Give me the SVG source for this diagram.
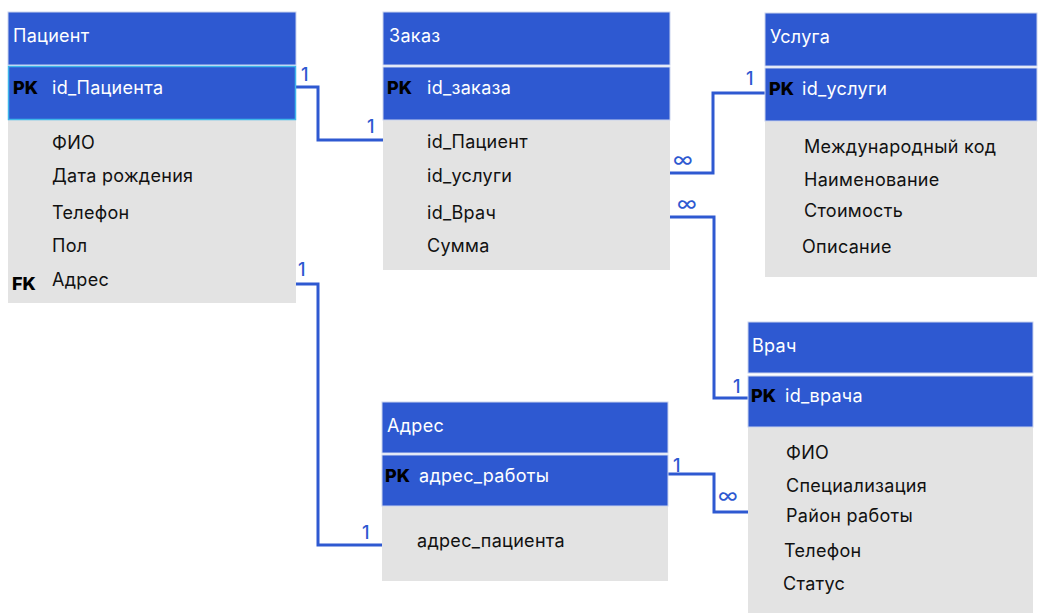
<svg xmlns="http://www.w3.org/2000/svg" width="1038" height="613" viewBox="0 0 1038 613">
  <style>
    .hdr { fill: #2e59d1; stroke: #c9d3ee; stroke-width: 1; }
    .pk { fill: #2e59d1; stroke: #c9d3ee; stroke-width: 1; }
    .body { fill: #e3e3e3; }
    .t { font-family: Inter, "Noto Sans", sans-serif; font-size: 18px; letter-spacing: 0.3px; }
    .w { fill: #ffffff; }
    .k { fill: #111111; }
    .b { font-family: Inter, "Noto Sans", sans-serif; font-size: 18px; font-weight: 800; fill: #000000; }
    .conn { fill: none; stroke: #2e59d1; stroke-width: 3; }
    .lbl { font-family: Inter, "Noto Sans", sans-serif; font-size: 18px; fill: #2e59d1; font-weight: 500; }
    .inf { font-family: Inter, "Noto Sans", sans-serif; font-size: 21px; fill: #2e59d1; font-weight: 400; }
  </style>
  <rect width="1038" height="613" fill="#ffffff"/>

  <!-- Connectors -->
  <g id="connectors">
    <polyline class="conn" points="296,87 318,87 318,140 383,140"/>
    <polyline class="conn" points="296,284 318,284 318,545 382,545"/>
    <polyline class="conn" points="670,173 713,173 713,93 765,93"/>
    <polyline class="conn" points="670,217 714,217 714,398 748,398"/>
    <polyline class="conn" points="668,474 714,474 714,512 748,512"/>
    <text class="lbl" x="301" y="81">1</text>
    <text class="lbl" x="367" y="133">1</text>
    <text class="lbl" x="298" y="276">1</text>
    <text class="lbl" x="362" y="539">1</text>
    <text class="inf" x="673" y="167">∞</text>
    <text class="lbl" x="746" y="85">1</text>
    <text class="inf" x="677" y="211">∞</text>
    <text class="lbl" x="733" y="393">1</text>
    <text class="lbl" x="673" y="472">1</text>
    <text class="inf" x="718" y="503">∞</text>
  </g>

  <!-- Пациент -->
  <g id="patient">
    <rect class="body" x="8" y="120" width="288" height="183"/>
    <rect class="hdr" x="8" y="12" width="288" height="53"/>
    <rect x="8.5" y="66.5" width="287" height="53" fill="#2e59d1" stroke="#3fb6ea" stroke-width="1.5"/>
    <text class="t w" x="13" y="42">Пациент</text>
    <text class="b" x="13" y="94">PK</text>
    <text class="t w" x="52" y="94">id_Пациента</text>
    <text class="t k" x="52" y="149">ФИО</text>
    <text class="t k" x="52" y="182">Дата рождения</text>
    <text class="t k" x="52" y="219">Телефон</text>
    <text class="t k" x="52" y="252">Пол</text>
    <text class="b" x="12" y="290">FK</text>
    <text class="t k" x="52" y="286">Адрес</text>
  </g>

  <!-- Заказ -->
  <g id="order">
    <rect class="body" x="383" y="120" width="287" height="150"/>
    <rect class="hdr" x="383" y="12" width="287" height="53"/>
    <rect class="pk" x="383" y="67" width="287" height="53"/>
    <text class="t w" x="389" y="42">Заказ</text>
    <text class="b" x="387" y="94">PK</text>
    <text class="t w" x="427" y="94">id_заказа</text>
    <text class="t k" x="427" y="148">id_Пациент</text>
    <text class="t k" x="427" y="182">id_услуги</text>
    <text class="t k" x="427" y="219">id_Врач</text>
    <text class="t k" x="427" y="252">Сумма</text>
  </g>

  <!-- Услуга -->
  <g id="service">
    <rect class="body" x="765" y="121" width="272" height="156"/>
    <rect class="hdr" x="765" y="13" width="272" height="53"/>
    <rect class="pk" x="765" y="68" width="272" height="53"/>
    <text class="t w" x="770" y="43">Услуга</text>
    <text class="b" x="769" y="95">PK</text>
    <text class="t w" x="802" y="95">id_услуги</text>
    <text class="t k" x="804" y="153">Международный код</text>
    <text class="t k" x="804" y="186">Наименование</text>
    <text class="t k" x="804" y="217">Стоимость</text>
    <text class="t k" x="802" y="253">Описание</text>
  </g>

  <!-- Адрес -->
  <g id="address">
    <rect class="body" x="382" y="506" width="286" height="75"/>
    <rect class="hdr" x="382" y="402" width="286" height="51"/>
    <rect class="pk" x="382" y="455" width="286" height="51"/>
    <text class="t w" x="387" y="432">Адрес</text>
    <text class="b" x="385" y="482">PK</text>
    <text class="t w" x="419" y="482">адрес_работы</text>
    <text class="t k" x="417" y="547">адрес_пациента</text>
  </g>

  <!-- Врач -->
  <g id="doctor">
    <rect class="body" x="748" y="427" width="285" height="186"/>
    <rect class="hdr" x="748" y="322" width="285" height="51"/>
    <rect class="pk" x="748" y="376" width="285" height="51"/>
    <text class="t w" x="752" y="352">Врач</text>
    <text class="b" x="751" y="402">PK</text>
    <text class="t w" x="785" y="402">id_врача</text>
    <text class="t k" x="786" y="459">ФИО</text>
    <text class="t k" x="786" y="492">Специализация</text>
    <text class="t k" x="786" y="522">Район работы</text>
    <text class="t k" x="784" y="557">Телефон</text>
    <text class="t k" x="783" y="590">Статус</text>
  </g>
</svg>
